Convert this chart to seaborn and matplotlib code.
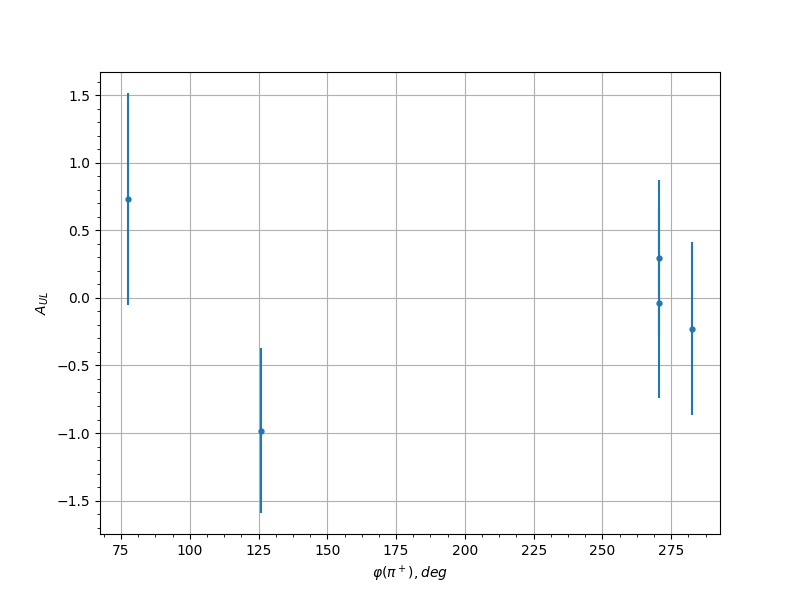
import matplotlib
matplotlib.use("Agg")
import matplotlib.pyplot as plt
from matplotlib.ticker import MultipleLocator, AutoMinorLocator
import seaborn as sns
import numpy as np

phi = [77.6, 126.0, 270.5, 270.5, 282.5]
a_ul = [0.732, -0.982, 0.296, -0.037, -0.228]
a_err = [0.785, 0.61, 0.576, 0.705, 0.642]

fig, ax = plt.subplots(figsize=(8, 6), dpi=100)
ax.errorbar(phi, a_ul, yerr=a_err, fmt='.', color='#1f77b4', elinewidth=1.5, ms=7)
ax.grid(True, color='#b0b0b0', linewidth=0.8)
ax.xaxis.set_major_locator(MultipleLocator(25))
ax.xaxis.set_minor_locator(AutoMinorLocator(4))
ax.yaxis.set_minor_locator(AutoMinorLocator(5))
ax.set_xlabel(r'$\varphi(\pi^+), deg$')
ax.set_ylabel(r'$A_{UL}$')
sns.despine(ax=ax, top=False, right=False)
fig.savefig('out.png', dpi=100)
